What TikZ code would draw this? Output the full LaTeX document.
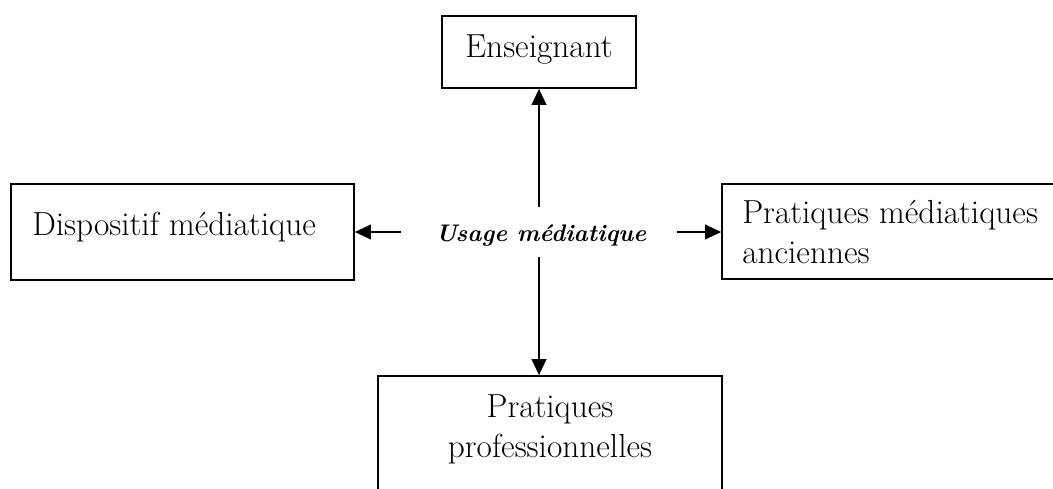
\documentclass[tikz,border=0pt]{standalone}
\usetikzlibrary{arrows.meta}
\begin{document}
\begin{tikzpicture}[x=0.75pt,y=-0.75pt,
  box/.style={draw, rectangle, line width=1.3pt, inner sep=0pt},
  lbl/.style={font=\fontsize{25}{30}\selectfont, inner sep=0pt},
  hub/.style={font=\fontsize{18}{21}\selectfont\bfseries\itshape, inner sep=0pt},
  link/.style={line width=1.3pt, -{Triangle[length=12pt,width=11pt]}}]
% page frame: boxes on the right and at the bottom run off the edge
\clip (0,0) rectangle (1053,489);

% boxes
\node[box, minimum width=145.5pt, minimum height=54pt]   (ens)  at (539,52)    {};
\node[box, minimum width=257.25pt, minimum height=72pt]  (disp) at (182.5,232) {};
\node[box, minimum width=261pt, minimum height=71.25pt]  (anc)  at (896,231.5) {};
\node[box, minimum width=258pt, minimum height=108pt]    (prof) at (550,448)   {};

% box texts
\node[lbl, anchor=base] (tens) at (539,57) {Enseignant};
\node[lbl, anchor=base west] (tdisp) at (32,235) {Dispositif médiatique};
\node[lbl, anchor=base west] (tanc) at (742,223)
  {\begin{tabular}[t]{@{}l@{}}Pratiques médiatiques\\anciennes\end{tabular}};
\node[lbl, anchor=base] (tprof) at (550,417)
  {\begin{tabular}[t]{@{}c@{}}Pratiques\\professionnelles\end{tabular}};

% central term
\node[hub, anchor=base] (usage) at (541,241) {Usage médiatique};

% free ends of the connectors around the central term
\coordinate (uN) at (539,207);
\coordinate (uS) at (539,257);
\coordinate (uW) at (401,232);
\coordinate (uE) at (677,232);

\draw[link] (uN) -- (ens.south -| uN);
\draw[link] (uS) -- (prof.north -| uS);
\draw[link] (uW) -- (disp.east |- uW);
\draw[link] (uE) -- (anc.west |- uE);
\end{tikzpicture}
\end{document}
